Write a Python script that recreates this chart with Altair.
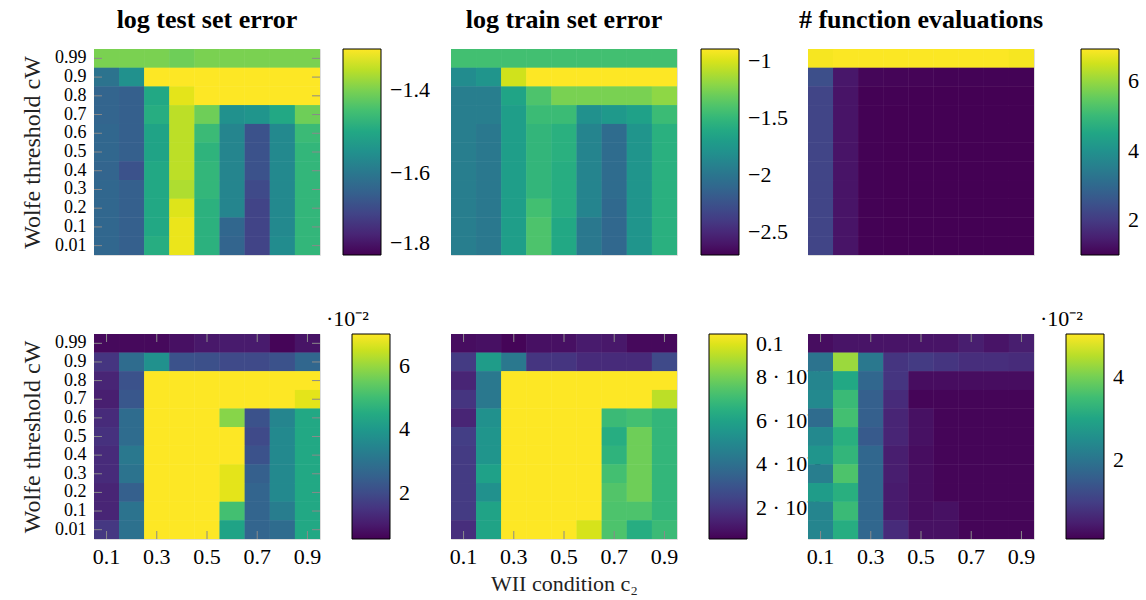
import altair as alt
import pandas as pd

FONT = "Liberation Serif"

C2 = ["0.1", "0.2", "0.3", "0.4", "0.5", "0.6", "0.7", "0.8", "0.9"]
CW = ["0.99", "0.9", "0.8", "0.7", "0.6", "0.5", "0.4", "0.3", "0.2", "0.1", "0.01"]
X_TICKS = ["0.1", "0.3", "0.5", "0.7", "0.9"]

# rows listed from cW = 0.99 (top) down to cW = 0.01 (bottom)
log_test_error = [
    [-1.40, -1.40, -1.40, -1.41, -1.40, -1.40, -1.40, -1.40, -1.40],
    [-1.61, -1.55, -1.27, -1.27, -1.27, -1.27, -1.27, -1.27, -1.27],
    [-1.64, -1.65, -1.50, -1.32, -1.27, -1.27, -1.27, -1.27, -1.27],
    [-1.64, -1.65, -1.49, -1.35, -1.41, -1.55, -1.54, -1.50, -1.41],
    [-1.635, -1.65, -1.51, -1.35, -1.46, -1.575, -1.675, -1.565, -1.46],
    [-1.635, -1.65, -1.51, -1.35, -1.475, -1.575, -1.675, -1.565, -1.47],
    [-1.64, -1.675, -1.50, -1.35, -1.47, -1.575, -1.675, -1.565, -1.47],
    [-1.635, -1.65, -1.50, -1.36, -1.47, -1.575, -1.69, -1.565, -1.47],
    [-1.635, -1.65, -1.50, -1.325, -1.48, -1.575, -1.70, -1.565, -1.47],
    [-1.635, -1.65, -1.50, -1.315, -1.48, -1.635, -1.70, -1.565, -1.47],
    [-1.635, -1.65, -1.49, -1.315, -1.48, -1.64, -1.70, -1.56, -1.47],
]

log_train_error = [
    [-1.44, -1.44, -1.44, -1.44, -1.44, -1.44, -1.44, -1.44, -1.44],
    [-1.83, -1.76, -1.02, -0.85, -0.85, -0.85, -0.85, -0.85, -0.85],
    [-1.94, -1.94, -1.65, -1.40, -1.26, -1.26, -1.26, -1.26, -1.20],
    [-1.94, -1.94, -1.69, -1.47, -1.47, -1.80, -1.73, -1.67, -1.47],
    [-1.94, -1.98, -1.69, -1.51, -1.56, -1.89, -2.07, -1.76, -1.56],
    [-1.94, -1.98, -1.69, -1.51, -1.56, -1.89, -2.07, -1.76, -1.56],
    [-1.94, -1.98, -1.69, -1.51, -1.58, -1.89, -2.07, -1.76, -1.56],
    [-1.94, -1.98, -1.69, -1.51, -1.58, -1.89, -2.07, -1.76, -1.56],
    [-1.94, -1.98, -1.69, -1.44, -1.58, -1.89, -2.09, -1.76, -1.56],
    [-1.94, -1.98, -1.69, -1.40, -1.62, -1.98, -2.10, -1.76, -1.56],
    [-1.94, -1.98, -1.69, -1.40, -1.62, -1.98, -2.10, -1.76, -1.56],
]

func_evals = [
    [6.85, 6.90, 6.90, 6.90, 6.90, 6.90, 6.90, 6.90, 6.85],
    [2.40, 1.35, 1.08, 1.06, 1.05, 1.03, 1.03, 1.03, 1.03],
    [2.20, 1.30, 1.02, 1.01, 1.00, 1.00, 1.00, 1.00, 1.00],
    [2.20, 1.30, 1.02, 1.00, 1.00, 1.00, 1.00, 1.00, 1.00],
    [2.20, 1.30, 1.02, 1.00, 1.00, 1.00, 1.00, 1.00, 1.00],
    [2.20, 1.30, 1.02, 1.00, 1.00, 1.00, 1.00, 1.00, 1.00],
    [2.20, 1.30, 1.02, 1.00, 1.00, 1.00, 1.00, 1.00, 1.00],
    [2.20, 1.30, 1.02, 1.00, 1.00, 1.00, 1.00, 1.00, 1.00],
    [2.20, 1.30, 1.02, 1.00, 1.00, 1.00, 1.00, 1.00, 1.00],
    [2.20, 1.30, 1.02, 1.00, 1.00, 1.00, 1.00, 1.00, 1.00],
    [2.20, 1.30, 1.02, 1.00, 1.00, 1.00, 1.00, 1.00, 1.00],
]

# bottom row (values in units of 10^-2 where the colour bar says so)
test_spread = [
    [0.67, 0.67, 0.67, 0.80, 0.93, 0.99, 0.99, 0.60, 0.86],
    [1.51, 2.80, 3.77, 2.16, 2.09, 1.96, 1.96, 2.16, 2.67],
    [1.19, 2.16, 7.30, 7.30, 7.30, 7.30, 7.30, 7.30, 7.30],
    [1.06, 2.28, 7.30, 7.30, 7.30, 7.30, 7.30, 7.30, 6.74],
    [1.32, 2.80, 7.30, 7.30, 7.30, 5.84, 2.16, 3.45, 4.42],
    [1.44, 2.80, 7.30, 7.30, 7.30, 7.30, 1.96, 3.58, 4.42],
    [1.32, 3.12, 7.30, 7.30, 7.30, 7.30, 2.16, 3.58, 4.42],
    [1.32, 2.99, 7.30, 7.30, 7.30, 6.74, 2.48, 3.58, 4.42],
    [1.19, 2.48, 7.30, 7.30, 7.30, 6.74, 2.61, 3.58, 4.42],
    [1.19, 2.99, 7.30, 7.30, 7.30, 5.06, 2.61, 3.25, 4.42],
    [1.57, 2.93, 7.30, 7.30, 7.30, 4.29, 2.61, 2.80, 4.42],
]

train_spread = [
    [0.0083, 0.0093, 0.0064, 0.0093, 0.0093, 0.0121, 0.0112, 0.0074, 0.0074],
    [0.0216, 0.0575, 0.0433, 0.0197, 0.0197, 0.0168, 0.0168, 0.0168, 0.0263],
    [0.0150, 0.0433, 0.1050, 0.1050, 0.1050, 0.1050, 0.1050, 0.1050, 0.1050],
    [0.0197, 0.0433, 0.1050, 0.1050, 0.1050, 0.1050, 0.1050, 0.1050, 0.0906],
    [0.0150, 0.0528, 0.1050, 0.1050, 0.1050, 0.1050, 0.0698, 0.0717, 0.0679],
    [0.0225, 0.0546, 0.1050, 0.1050, 0.1050, 0.1050, 0.0641, 0.0792, 0.0679],
    [0.0216, 0.0546, 0.1050, 0.1050, 0.1050, 0.1050, 0.0669, 0.0792, 0.0679],
    [0.0216, 0.0594, 0.1050, 0.1050, 0.1050, 0.1050, 0.0717, 0.0792, 0.0679],
    [0.0216, 0.0528, 0.1050, 0.1050, 0.1050, 0.1050, 0.0745, 0.0792, 0.0679],
    [0.0216, 0.0603, 0.1050, 0.1050, 0.1050, 0.1050, 0.0735, 0.0735, 0.0679],
    [0.0178, 0.0603, 0.1050, 0.1050, 0.1050, 0.0943, 0.0735, 0.0641, 0.0698],
]

evals_spread = [
    [0.27, 0.37, 0.37, 0.37, 0.37, 0.37, 0.51, 0.37, 0.51],
    [1.98, 4.29, 2.08, 0.86, 0.95, 0.86, 0.76, 0.76, 0.71],
    [2.33, 3.06, 1.74, 0.86, 0.27, 0.27, 0.27, 0.27, 0.27],
    [2.42, 3.45, 1.59, 0.71, 0.17, 0.17, 0.17, 0.17, 0.17],
    [1.84, 3.55, 1.59, 0.61, 0.32, 0.17, 0.17, 0.17, 0.17],
    [2.42, 3.21, 1.49, 0.61, 0.32, 0.17, 0.17, 0.17, 0.17],
    [2.67, 3.35, 1.74, 0.51, 0.27, 0.17, 0.17, 0.17, 0.17],
    [2.18, 3.65, 1.74, 0.51, 0.27, 0.17, 0.17, 0.17, 0.17],
    [2.82, 3.21, 1.74, 0.46, 0.27, 0.17, 0.17, 0.17, 0.17],
    [2.33, 3.45, 1.74, 0.46, 0.27, 0.32, 0.17, 0.17, 0.17],
    [2.33, 3.16, 1.74, 0.71, 0.32, 0.32, 0.17, 0.17, 0.17],
]

W = 226
TICK_GRAY = "#8a8a8a"
LABEL_SIZE = 22


def frame(rows):
    recs = []
    for cw, row in zip(CW, rows):
        for c2, v in zip(C2, row):
            recs.append({"c2": c2, "cw": cw, "v": v})
    return pd.DataFrame(recs)


def panel(rows, domain, ticks, label_expr, height, legend_x,
          title="", first_col=False, bottom=False, xtitle="", sci=False):
    df = frame(rows)
    legend = alt.Legend(
        type="gradient",
        orient="none", legendX=legend_x, legendY=0, direction="vertical",
        gradientLength=height, gradientThickness=38,
        gradientStrokeColor="black", gradientStrokeWidth=1,
        labelFont=FONT, labelFontSize=LABEL_SIZE, labelColor="black",
        labelOffset=9, labelBaseline="middle", labelOverlap=False,
        values=ticks, labelExpr=label_expr, title=None,
    )
    if bottom:
        xaxis = alt.Axis(values=X_TICKS, ticks=False, domain=False, labelAngle=0,
                         labelFont=FONT, labelFontSize=LABEL_SIZE, labelColor="black",
                         labelPadding=7, title=xtitle if xtitle else None,
                         titleFont=FONT, titleFontSize=22, titleFontWeight="normal",
                         titleColor="#222222", titlePadding=6)
    else:
        xaxis = None
    if first_col:
        yaxis = alt.Axis(ticks=False, domain=False, labelFont=FONT, labelFontSize=18,
                         labelColor="black", labelPadding=8, labelOverlap=False,
                         title="Wolfe threshold cW", titleFont=FONT, titleFontSize=24,
                         titleFontWeight="normal", titleColor="#222222", titlePadding=10)
    else:
        yaxis = None

    xscale = alt.Scale(paddingInner=0, paddingOuter=0)
    yscale = alt.Scale(paddingInner=0, paddingOuter=0)
    xenc = alt.X("c2:O", sort=C2, scale=xscale, axis=xaxis)
    yenc = alt.Y("cw:O", sort=CW, scale=yscale, axis=yaxis)
    cscale = alt.Scale(scheme="viridis", domain=domain, clamp=True)

    base = alt.Chart(df).mark_rect().encode(
        x=xenc, y=yenc,
        color=alt.Color("v:Q", scale=cscale, legend=legend),
    )
    # drawn twice so the anti-aliased seams between neighbouring cells disappear
    layers = [base, base]
    if first_col:
        ydf = pd.DataFrame({"cw": CW})
        layers.append(alt.Chart(ydf).mark_rule(color=TICK_GRAY, strokeWidth=1).encode(
            y=yenc, x=alt.value(0), x2=alt.value(8)))
        layers.append(alt.Chart(ydf).mark_rule(color=TICK_GRAY, strokeWidth=1).encode(
            y=yenc, x=alt.value(W - 8), x2=alt.value(W)))
    if bottom:
        xdf = pd.DataFrame({"c2": X_TICKS})
        layers.append(alt.Chart(xdf).mark_rule(color=TICK_GRAY, strokeWidth=1).encode(
            x=xenc, y=alt.value(0), y2=alt.value(8)))
        layers.append(alt.Chart(xdf).mark_rule(color=TICK_GRAY, strokeWidth=1).encode(
            x=xenc, y=alt.value(height - 8), y2=alt.value(height)))
    if sci:
        tdf = pd.DataFrame({"t": ["·10⁻²"]})
        layers.append(alt.Chart(tdf).mark_text(
            font=FONT, fontSize=22, align="left", baseline="alphabetic", color="black"
        ).encode(text="t:N", x=alt.value(legend_x - 26), y=alt.value(-8)))

    ch = alt.layer(*layers).properties(width=W, height=height)
    if title:
        ch = ch.properties(title=alt.TitleParams(
            text=title, font=FONT, fontSize=26, fontWeight="bold", color="black",
            anchor="middle", frame="group", offset=16))
    return ch


lbl_minus = "replace(format(datum.value, '~g'), '-', '\u2212')"
lbl_int = "format(datum.value, 'd')"
lbl_b2 = "datum.value > 0.099 ? '0.1' : format(datum.value * 100, 'd') + ' \u00b7 10\u207b\u00b2'"

panels = [
    panel(log_test_error, [-1.8, -1.3], [-1.8, -1.6, -1.4], lbl_minus, 206, 249,
          title="log test set error", first_col=True),
    panel(log_train_error, [-2.70, -0.895], [-2.5, -2, -1.5, -1], lbl_minus, 206, 250,
          title="log train set error"),
    panel(func_evals, [1.0, 6.92], [2, 4, 6], lbl_int, 206, 273,
          title="# function evaluations"),
    panel(test_spread, [0.54, 7.0], [2, 4, 6], lbl_int, 205, 258,
          first_col=True, bottom=True, sci=True),
    panel(train_spread, [0.0055, 0.1], [0.02, 0.04, 0.06, 0.08, 0.1], lbl_b2, 205, 258,
          bottom=True, xtitle="WII condition c\u2082"),
    panel(evals_spread, [0.12, 5.02], [2, 4], lbl_int, 205, 258,
          bottom=True, sci=True),
]

chart = alt.concat(
    *panels, columns=3, spacing={"row": 79, "column": 131}, bounds="flush"
).resolve_scale(
    color="independent"
).resolve_legend(
    color="independent"
).properties(
    padding={"left": 20, "top": 6, "right": 5, "bottom": 5}
).configure_view(stroke="black", strokeWidth=1).configure(background="white")

chart.save("out.html", embed_options={"renderer": "svg", "actions": False})
